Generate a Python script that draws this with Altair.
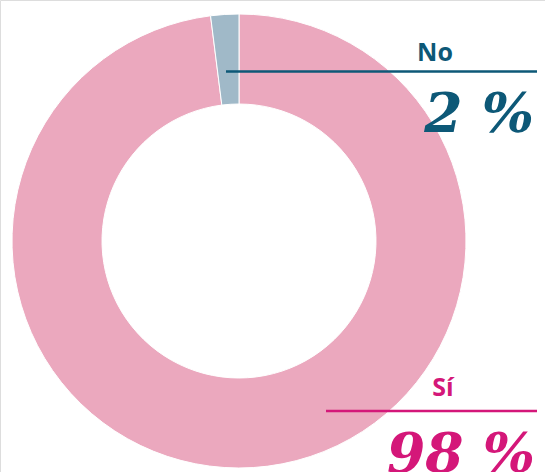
import altair as alt
import pandas as pd

categories = ["Sí", "No"]
values = [98, 2]
labels = ["98 %", "2 %"]

df = pd.DataFrame({"cat": categories, "val": values, "label": labels, "order": [0, 1]})

pink = "#EBA8BE"
bluegray = "#A0B9C8"
teal = "#0D5877"
magenta = "#D41779"

serif = "DejaVu Serif"

base = alt.Chart(df)

donut = base.mark_arc(outerRadius=227, innerRadius=137, stroke="white", strokeWidth=1).encode(
    theta=alt.Theta("val:Q", stack=True),
    order=alt.Order("order:Q"),
    color=alt.Color("cat:N", scale=alt.Scale(domain=categories, range=[pink, bluegray]), legend=None),
    x=alt.value(239),
    y=alt.value(241),
)

no_df = base.transform_filter(alt.datum.cat == "No")
si_df = base.transform_filter(alt.datum.cat == "Sí")

no_rule = no_df.mark_rule(color=teal, strokeWidth=2.5).encode(
    x=alt.value(226), x2=alt.value(537), y=alt.value(71.5))
si_rule = si_df.mark_rule(color=magenta, strokeWidth=2.5).encode(
    x=alt.value(326), x2=alt.value(537), y=alt.value(411))

no_name = no_df.mark_text(font="Open Sans", fontWeight="bold", fontSize=25, color=teal,
                          align="center", baseline="alphabetic").encode(
    text="cat:N", x=alt.value(435), y=alt.value(61))
si_name = si_df.mark_text(font="Open Sans", fontWeight="bold", fontSize=25, color=magenta,
                          align="center", baseline="alphabetic").encode(
    text="cat:N", x=alt.value(443), y=alt.value(396))

no_val = no_df.mark_text(font=serif, fontWeight="bold", fontStyle="italic", fontSize=55,
                         color=teal, align="right", baseline="alphabetic").encode(
    text="label:N", x=alt.value(534), y=alt.value(132))
si_val = si_df.mark_text(font=serif, fontWeight="bold", fontStyle="italic", fontSize=55,
                         color=magenta, align="right", baseline="alphabetic").encode(
    text="label:N", x=alt.value(535), y=alt.value(472))

chart = alt.layer(donut, no_rule, si_rule, no_name, si_name, no_val, si_val).properties(
    width=545, height=472, padding=0, autosize=alt.AutoSizeParams(type="none")
).configure_view(stroke=None).configure(background="white")

chart.save("out.html", embed_options={"renderer": "svg", "actions": False})
